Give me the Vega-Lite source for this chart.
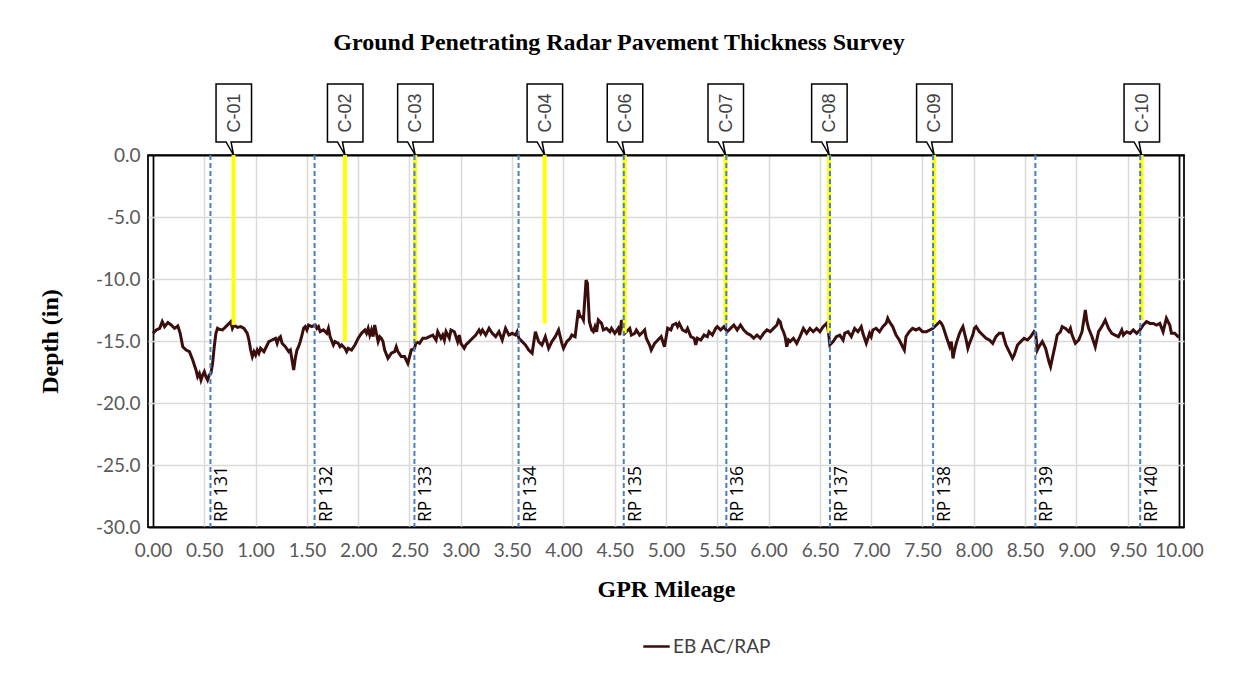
{
  "$schema": "https://vega.github.io/schema/vega-lite/v6.json",
  "autosize": "none",
  "width": 1036,
  "height": 372,
  "padding": {"left": 148, "top": 155, "right": 55, "bottom": 153},
  "background": "white",
  "config": {
    "view": {"stroke": "black", "strokeWidth": 1.75},
    "axis": {"ticks": false, "domain": false}
  },
  "title": {
    "text": "Ground Penetrating Radar Pavement Thickness Survey",
    "font": "Liberation Serif", "fontSize": 24, "fontWeight": "bold", "color": "black",
    "anchor": "middle", "frame": "group", "dx": -47, "offset": 26
  },
  "datasets": {
    "profile": [
      {"mi":0.000,"d":-14.38},{"mi":0.032,"d":-14.11},{"mi":0.065,"d":-13.98},{"mi":0.090,"d":-13.44},{"mi":0.113,"d":-13.84},{"mi":0.145,"d":-13.52},{"mi":0.177,"d":-13.71},{"mi":0.210,"d":-13.98},{"mi":0.242,"d":-13.79},{"mi":0.265,"d":-14.38},{"mi":0.290,"d":-15.46},{"mi":0.323,"d":-15.73},{"mi":0.355,"d":-15.86},{"mi":0.387,"d":-16.53},{"mi":0.419,"d":-17.34},{"mi":0.435,"d":-17.88},{"mi":0.452,"d":-17.61},{"mi":0.468,"d":-18.15},{"mi":0.484,"d":-17.74},{"mi":0.500,"d":-17.47},{"mi":0.516,"d":-17.88},{"mi":0.532,"d":-18.15},{"mi":0.548,"d":-17.74},{"mi":0.565,"d":-17.61},{"mi":0.581,"d":-16.80},{"mi":0.597,"d":-15.46},{"mi":0.613,"d":-14.38},{"mi":0.629,"d":-13.98},{"mi":0.645,"d":-14.06},{"mi":0.677,"d":-14.11},{"mi":0.710,"d":-13.84},{"mi":0.742,"d":-13.58},{"mi":0.758,"d":-13.44},{"mi":0.774,"d":-13.98},{"mi":0.790,"d":-13.71},{"mi":0.823,"d":-13.90},{"mi":0.855,"d":-13.84},{"mi":0.887,"d":-13.98},{"mi":0.919,"d":-14.38},{"mi":0.935,"d":-14.92},{"mi":0.952,"d":-15.73},{"mi":0.968,"d":-16.26},{"mi":0.984,"d":-15.86},{"mi":1.000,"d":-16.13},{"mi":1.016,"d":-15.73},{"mi":1.032,"d":-15.99},{"mi":1.048,"d":-15.59},{"mi":1.081,"d":-15.86},{"mi":1.113,"d":-15.32},{"mi":1.129,"d":-15.05},{"mi":1.161,"d":-14.92},{"mi":1.194,"d":-14.78},{"mi":1.210,"d":-15.19},{"mi":1.226,"d":-14.78},{"mi":1.242,"d":-14.65},{"mi":1.258,"d":-15.19},{"mi":1.290,"d":-15.46},{"mi":1.323,"d":-15.86},{"mi":1.339,"d":-15.73},{"mi":1.355,"d":-16.53},{"mi":1.371,"d":-17.34},{"mi":1.387,"d":-16.40},{"mi":1.403,"d":-15.73},{"mi":1.419,"d":-15.46},{"mi":1.435,"d":-15.05},{"mi":1.452,"d":-14.52},{"mi":1.468,"d":-13.98},{"mi":1.484,"d":-13.84},{"mi":1.500,"d":-14.11},{"mi":1.516,"d":-13.71},{"mi":1.548,"d":-13.84},{"mi":1.581,"d":-13.71},{"mi":1.597,"d":-13.98},{"mi":1.613,"d":-13.84},{"mi":1.629,"d":-14.25},{"mi":1.661,"d":-14.11},{"mi":1.694,"d":-14.38},{"mi":1.710,"d":-13.98},{"mi":1.726,"d":-14.65},{"mi":1.758,"d":-15.32},{"mi":1.774,"d":-15.05},{"mi":1.806,"d":-15.19},{"mi":1.823,"d":-15.46},{"mi":1.839,"d":-15.32},{"mi":1.871,"d":-15.59},{"mi":1.887,"d":-15.86},{"mi":1.903,"d":-15.59},{"mi":1.935,"d":-15.73},{"mi":1.968,"d":-15.32},{"mi":2.000,"d":-14.78},{"mi":2.032,"d":-14.38},{"mi":2.065,"d":-14.11},{"mi":2.081,"d":-14.38},{"mi":2.097,"d":-13.98},{"mi":2.113,"d":-14.52},{"mi":2.129,"d":-14.11},{"mi":2.145,"d":-14.65},{"mi":2.161,"d":-13.71},{"mi":2.177,"d":-14.38},{"mi":2.194,"d":-15.05},{"mi":2.210,"d":-14.65},{"mi":2.226,"d":-14.78},{"mi":2.242,"d":-15.05},{"mi":2.258,"d":-15.73},{"mi":2.290,"d":-16.40},{"mi":2.323,"d":-15.99},{"mi":2.355,"d":-15.86},{"mi":2.371,"d":-15.46},{"mi":2.387,"d":-15.86},{"mi":2.419,"d":-16.26},{"mi":2.452,"d":-16.26},{"mi":2.468,"d":-16.53},{"mi":2.484,"d":-16.80},
      {"mi":2.517,"d":-15.73},{"mi":2.549,"d":-15.59},{"mi":2.565,"d":-15.05},{"mi":2.598,"d":-15.19},{"mi":2.630,"d":-14.78},{"mi":2.662,"d":-14.78},{"mi":2.694,"d":-14.65},{"mi":2.727,"d":-14.52},{"mi":2.759,"d":-14.92},{"mi":2.775,"d":-14.25},{"mi":2.807,"d":-14.78},{"mi":2.824,"d":-14.52},{"mi":2.840,"d":-14.92},{"mi":2.856,"d":-14.25},{"mi":2.888,"d":-14.78},{"mi":2.904,"d":-14.11},{"mi":2.937,"d":-14.25},{"mi":2.969,"d":-15.05},{"mi":2.985,"d":-14.52},{"mi":3.001,"d":-15.19},{"mi":3.033,"d":-15.59},{"mi":3.049,"d":-15.32},{"mi":3.082,"d":-15.05},{"mi":3.114,"d":-14.78},{"mi":3.146,"d":-14.52},{"mi":3.178,"d":-14.11},{"mi":3.194,"d":-14.38},{"mi":3.211,"d":-14.11},{"mi":3.243,"d":-14.52},{"mi":3.275,"d":-13.98},{"mi":3.307,"d":-14.38},{"mi":3.340,"d":-14.65},{"mi":3.372,"d":-14.25},{"mi":3.404,"d":-14.92},{"mi":3.436,"d":-13.98},{"mi":3.469,"d":-14.52},{"mi":3.501,"d":-14.38},{"mi":3.533,"d":-14.52},{"mi":3.549,"d":-14.25},{"mi":3.566,"d":-14.78},{"mi":3.598,"d":-15.05},{"mi":3.630,"d":-15.32},{"mi":3.662,"d":-15.73},{"mi":3.695,"d":-15.99},{"mi":3.727,"d":-14.25},{"mi":3.759,"d":-15.05},{"mi":3.791,"d":-15.32},{"mi":3.824,"d":-14.65},{"mi":3.856,"d":-15.59},{"mi":3.888,"d":-15.05},{"mi":3.921,"d":-14.65},{"mi":3.953,"d":-14.11},{"mi":3.985,"d":-15.19},{"mi":4.001,"d":-15.59},{"mi":4.033,"d":-15.05},{"mi":4.066,"d":-14.78},{"mi":4.082,"d":-14.52},{"mi":4.114,"d":-14.65},{"mi":4.130,"d":-13.58},{"mi":4.146,"d":-12.50},{"mi":4.162,"d":-13.04},{"mi":4.179,"d":-13.04},{"mi":4.195,"d":-13.31},{"mi":4.221,"d":-10.08},{"mi":4.234,"d":-10.35},{"mi":4.253,"d":-13.44},{"mi":4.276,"d":-14.11},{"mi":4.292,"d":-14.25},{"mi":4.308,"d":-13.84},{"mi":4.324,"d":-14.25},{"mi":4.340,"d":-13.31},{"mi":4.372,"d":-13.58},{"mi":4.389,"d":-14.11},{"mi":4.421,"d":-13.98},{"mi":4.453,"d":-14.25},{"mi":4.469,"d":-13.98},{"mi":4.501,"d":-14.38},{"mi":4.534,"d":-13.98},{"mi":4.550,"d":-14.52},{"mi":4.566,"d":-13.31},{"mi":4.582,"d":-13.71},{"mi":4.598,"d":-14.38},{"mi":4.614,"d":-14.25},{"mi":4.647,"d":-13.98},{"mi":4.663,"d":-14.52},{"mi":4.695,"d":-14.38},{"mi":4.711,"d":-14.11},{"mi":4.743,"d":-14.52},{"mi":4.776,"d":-14.25},{"mi":4.792,"d":-14.11},{"mi":4.808,"d":-14.78},{"mi":4.840,"d":-15.32},{"mi":4.856,"d":-15.73},{"mi":4.889,"d":-15.19},{"mi":4.921,"d":-14.92},{"mi":4.953,"d":-14.65},{"mi":4.985,"d":-15.46},
      {"mi":5.016,"d":-13.98},{"mi":5.048,"d":-14.11},{"mi":5.065,"d":-13.71},{"mi":5.097,"d":-13.58},{"mi":5.113,"d":-13.84},{"mi":5.129,"d":-13.58},{"mi":5.161,"d":-14.11},{"mi":5.194,"d":-14.25},{"mi":5.210,"d":-13.98},{"mi":5.242,"d":-14.65},{"mi":5.274,"d":-14.78},{"mi":5.290,"d":-15.32},{"mi":5.306,"d":-14.78},{"mi":5.339,"d":-14.92},{"mi":5.371,"d":-14.52},{"mi":5.403,"d":-14.65},{"mi":5.419,"d":-14.25},{"mi":5.452,"d":-14.52},{"mi":5.484,"d":-13.98},{"mi":5.500,"d":-13.84},{"mi":5.532,"d":-14.11},{"mi":5.565,"d":-13.84},{"mi":5.597,"d":-14.25},{"mi":5.629,"d":-13.98},{"mi":5.661,"d":-13.71},{"mi":5.694,"d":-14.11},{"mi":5.726,"d":-13.71},{"mi":5.758,"d":-14.11},{"mi":5.790,"d":-14.38},{"mi":5.823,"d":-14.52},{"mi":5.839,"d":-14.65},{"mi":5.855,"d":-14.78},{"mi":5.887,"d":-14.52},{"mi":5.919,"d":-14.78},{"mi":5.952,"d":-14.38},{"mi":5.984,"d":-14.11},{"mi":6.016,"d":-14.25},{"mi":6.048,"d":-13.98},{"mi":6.081,"d":-13.71},{"mi":6.097,"d":-13.31},{"mi":6.113,"d":-13.44},{"mi":6.129,"d":-13.98},{"mi":6.145,"d":-14.25},{"mi":6.161,"d":-14.65},{"mi":6.177,"d":-15.46},{"mi":6.194,"d":-14.92},{"mi":6.210,"d":-15.05},{"mi":6.242,"d":-14.78},{"mi":6.274,"d":-15.19},{"mi":6.306,"d":-14.65},{"mi":6.339,"d":-13.98},{"mi":6.371,"d":-14.38},{"mi":6.403,"d":-13.98},{"mi":6.435,"d":-14.25},{"mi":6.468,"d":-13.98},{"mi":6.500,"d":-14.25},{"mi":6.532,"d":-13.84},{"mi":6.565,"d":-13.58},{"mi":6.581,"d":-14.11},{"mi":6.597,"d":-15.32},{"mi":6.629,"d":-15.05},{"mi":6.661,"d":-14.65},{"mi":6.694,"d":-14.52},{"mi":6.726,"d":-14.92},{"mi":6.742,"d":-14.38},{"mi":6.774,"d":-14.25},{"mi":6.806,"d":-14.65},{"mi":6.839,"d":-13.98},{"mi":6.871,"d":-14.25},{"mi":6.903,"d":-13.84},{"mi":6.919,"d":-14.38},{"mi":6.952,"d":-15.19},{"mi":6.984,"d":-14.38},{"mi":7.000,"d":-14.65},{"mi":7.016,"d":-14.11},{"mi":7.048,"d":-13.98},{"mi":7.081,"d":-14.25},{"mi":7.113,"d":-13.84},{"mi":7.145,"d":-13.58},{"mi":7.161,"d":-13.17},{"mi":7.177,"d":-13.44},{"mi":7.210,"d":-13.84},{"mi":7.242,"d":-14.52},{"mi":7.274,"d":-14.92},{"mi":7.306,"d":-15.46},{"mi":7.323,"d":-15.73},{"mi":7.339,"d":-14.65},{"mi":7.371,"d":-14.25},{"mi":7.403,"d":-13.98},{"mi":7.435,"d":-14.11},{"mi":7.468,"d":-13.98},{"mi":7.500,"d":-14.25},
      {"mi":7.539,"d":-14.25},{"mi":7.571,"d":-14.11},{"mi":7.603,"d":-13.98},{"mi":7.635,"d":-13.71},{"mi":7.668,"d":-13.44},{"mi":7.684,"d":-13.58},{"mi":7.700,"d":-13.84},{"mi":7.732,"d":-14.65},{"mi":7.765,"d":-15.46},{"mi":7.781,"d":-15.05},{"mi":7.797,"d":-16.40},{"mi":7.813,"d":-15.73},{"mi":7.829,"d":-15.19},{"mi":7.861,"d":-14.38},{"mi":7.877,"d":-14.11},{"mi":7.894,"d":-13.84},{"mi":7.926,"d":-14.92},{"mi":7.942,"d":-15.59},{"mi":7.958,"d":-15.19},{"mi":7.990,"d":-14.52},{"mi":8.006,"d":-13.98},{"mi":8.023,"d":-13.84},{"mi":8.055,"d":-14.25},{"mi":8.087,"d":-14.52},{"mi":8.119,"d":-14.78},{"mi":8.152,"d":-14.92},{"mi":8.184,"d":-15.19},{"mi":8.216,"d":-14.65},{"mi":8.248,"d":-14.38},{"mi":8.281,"d":-14.38},{"mi":8.313,"d":-15.32},{"mi":8.345,"d":-15.86},{"mi":8.377,"d":-16.40},{"mi":8.394,"d":-16.13},{"mi":8.426,"d":-15.32},{"mi":8.458,"d":-15.05},{"mi":8.490,"d":-14.78},{"mi":8.523,"d":-14.92},{"mi":8.555,"d":-14.65},{"mi":8.587,"d":-14.25},{"mi":8.603,"d":-14.38},{"mi":8.619,"d":-15.73},{"mi":8.635,"d":-15.46},{"mi":8.668,"d":-15.05},{"mi":8.700,"d":-15.59},{"mi":8.732,"d":-16.67},{"mi":8.748,"d":-17.07},{"mi":8.765,"d":-16.40},{"mi":8.797,"d":-15.19},{"mi":8.813,"d":-14.52},{"mi":8.845,"d":-14.25},{"mi":8.861,"d":-13.84},{"mi":8.894,"d":-13.98},{"mi":8.926,"d":-14.25},{"mi":8.942,"d":-13.98},{"mi":8.958,"d":-14.52},{"mi":8.990,"d":-15.19},{"mi":9.023,"d":-14.92},{"mi":9.055,"d":-14.25},{"mi":9.087,"d":-12.50},{"mi":9.103,"d":-13.44},{"mi":9.119,"d":-13.98},{"mi":9.152,"d":-14.65},{"mi":9.184,"d":-15.46},{"mi":9.216,"d":-14.25},{"mi":9.248,"d":-13.84},{"mi":9.281,"d":-13.31},{"mi":9.313,"d":-13.98},{"mi":9.345,"d":-14.38},{"mi":9.377,"d":-14.52},{"mi":9.410,"d":-14.65},{"mi":9.442,"d":-14.11},{"mi":9.458,"d":-14.52},{"mi":9.474,"d":-14.38},{"mi":9.490,"d":-14.25},{"mi":9.523,"d":-14.38},{"mi":9.555,"d":-14.11},{"mi":9.587,"d":-14.38},{"mi":9.619,"d":-14.11},{"mi":9.652,"d":-13.71},{"mi":9.684,"d":-13.44},{"mi":9.716,"d":-13.58},{"mi":9.748,"d":-13.58},{"mi":9.781,"d":-13.71},{"mi":9.813,"d":-13.58},{"mi":9.845,"d":-14.25},{"mi":9.877,"d":-13.17},{"mi":9.910,"d":-13.71},{"mi":9.926,"d":-14.38},{"mi":9.958,"d":-14.38},{"mi":9.990,"d":-14.65},{"mi":10.000,"d":-14.70}
    ],
    "cores": [
      {"core":"C-01","mi":0.785,"bottom":-13.71},
      {"core":"C-02","mi":1.871,"bottom":-15.05},
      {"core":"C-03","mi":2.555,"bottom":-15.05},
      {"core":"C-04","mi":3.817,"bottom":-13.58},
      {"core":"C-06","mi":4.598,"bottom":-14.38},
      {"core":"C-07","mi":5.580,"bottom":-13.58},
      {"core":"C-08","mi":6.590,"bottom":-14.38},
      {"core":"C-09","mi":7.613,"bottom":-13.58},
      {"core":"C-10","mi":9.635,"bottom":-13.31}
    ],
    "rps": [
      {"rp":"RP 131","mi":0.560},
      {"rp":"RP 132","mi":1.575},
      {"rp":"RP 133","mi":2.548},
      {"rp":"RP 134","mi":3.563},
      {"rp":"RP 135","mi":4.588},
      {"rp":"RP 136","mi":5.588},
      {"rp":"RP 137","mi":6.598},
      {"rp":"RP 138","mi":7.603},
      {"rp":"RP 139","mi":8.600},
      {"rp":"RP 140","mi":9.622}
    ]
  },
  "layer": [
    {
      "data": {"name": "profile"},
      "mark": {"type": "line", "strokeWidth": 3},
      "encoding": {
        "x": {"field": "mi", "type": "quantitative", "scale": {"domain": [0, 10], "nice": false, "zero": false},
          "axis": {"values": [0,0.5,1,1.5,2,2.5,3,3.5,4,4.5,5,5.5,6,6.5,7,7.5,8,8.5,9,9.5,10], "format": ".2f",
            "grid": true,
            "gridColor": {"condition": {"test": "datum.value <= 0 || datum.value >= 10", "value": "black"}, "value": "#d9d9d9"},
            "gridWidth": {"condition": {"test": "datum.value <= 0 || datum.value >= 10", "value": 1.75}, "value": 1.5},
            "labelFont": "Lato", "labelFontSize": 19, "labelColor": "#595959", "labelPadding": 14,
            "title": "GPR Mileage", "titleFont": "Liberation Serif", "titleFontSize": 24, "titleFontWeight": "bold", "titleColor": "black", "titlePadding": 17}},
        "y": {"field": "d", "type": "quantitative", "scale": {"domain": [-30, 0], "nice": false, "zero": false},
          "axis": {"values": [-30,-25,-20,-15,-10,-5,0],
            "labelExpr": "replace(format(datum.value, '.1f'), '\u2212', '-')",
            "grid": true,
            "gridColor": {"condition": {"test": "datum.value <= -30 || datum.value >= 0", "value": "black"}, "value": "#d9d9d9"},
            "gridWidth": {"condition": {"test": "datum.value <= -30 || datum.value >= 0", "value": 1.75}, "value": 1.5},
            "labelFont": "Lato", "labelFontSize": 19, "labelColor": "#595959", "labelPadding": 8,
            "title": "Depth (in)", "titleFont": "Liberation Serif", "titleFontSize": 24, "titleFontWeight": "bold", "titleColor": "black", "titlePadding": 33}},
        "color": {"datum": "EB AC/RAP", "type": "nominal",
          "scale": {"range": ["#3b0d0d"]},
          "legend": {"title": null, "orient": "none", "legendX": 494, "legendY": 477, "padding": 0,
            "symbolType": "stroke", "symbolSize": 700, "symbolStrokeWidth": 2.5,
            "labelFont": "Lato", "labelFontSize": 19, "labelColor": "#404040", "labelOffset": 2}}
      }
    },
    {
      "data": {"name": "cores"},
      "mark": {"type": "bar", "color": "#ffff00", "size": 4},
      "encoding": {
        "x": {"field": "mi", "type": "quantitative"},
        "y": {"field": "bottom", "type": "quantitative"}
      }
    },
    {
      "data": {"name": "rps"},
      "mark": {"type": "rule", "color": "#4a7ebf", "strokeWidth": 2, "strokeDash": [5, 3]},
      "encoding": {
        "x": {"field": "mi", "type": "quantitative"}
      }
    },
    {
      "data": {"name": "rps"},
      "mark": {"type": "text", "angle": 270, "align": "left", "baseline": "top", "xOffset": 3, "yOffset": -5,
        "font": "Open Sans", "fontSize": 17.5, "color": "black"},
      "encoding": {
        "x": {"field": "mi", "type": "quantitative"},
        "y": {"value": "height"},
        "text": {"field": "rp"}
      }
    },
    {
      "data": {"name": "cores"},
      "mark": {"type": "point", "shape": "M0,0L-7.5,-13L-17.5,-13L-17.5,-71L18,-71L18,-13L-2.5,-13Z", "size": 4,
        "fill": "white", "stroke": "black", "strokeWidth": 1.5, "opacity": 1, "fillOpacity": 1, "strokeOpacity": 1},
      "encoding": {
        "x": {"field": "mi", "type": "quantitative"},
        "y": {"value": 0}
      }
    },
    {
      "data": {"name": "cores"},
      "mark": {"type": "text", "angle": 270, "align": "center", "baseline": "middle", "xOffset": 1, "yOffset": -42,
        "font": "Liberation Sans", "fontSize": 18, "color": "#404040"},
      "encoding": {
        "x": {"field": "mi", "type": "quantitative"},
        "y": {"value": 0},
        "text": {"field": "core"}
      }
    }
  ]
}
